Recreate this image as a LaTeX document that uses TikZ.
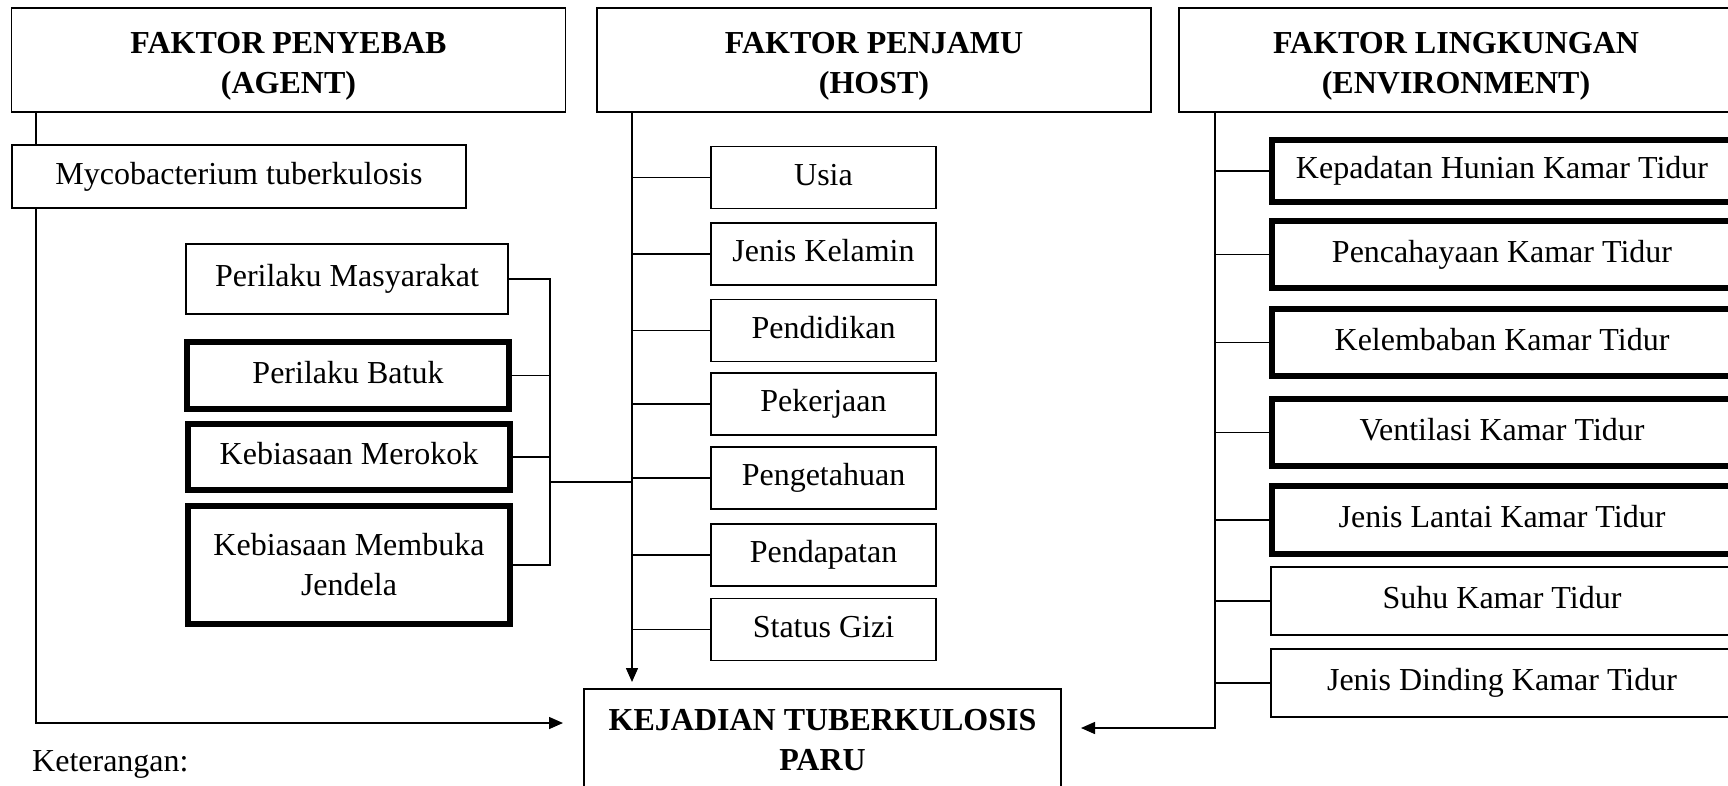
\documentclass[tikz,border=0pt]{standalone}
\usepackage{fontspec}
\setmainfont{Liberation Serif}
\usetikzlibrary{arrows.meta}
\newcommand\myfs{\fontsize{32}{40}\selectfont}
\newcommand\highr{\rule{0pt}{34pt}}
\begin{document}
\begin{tikzpicture}[x=1pt,y=-1pt,
  box/.style={draw, line width=1.5pt, inner sep=0pt, outer sep=0pt, font=\myfs, align=center},
  tbox/.style={box, line width=6.5pt},
  head/.style={box, font=\myfs\bfseries},
  st/.style={text height=22pt, text depth=7pt},
  ln/.style={line width=1.5pt},
  arr/.style={ln, -{Triangle[length=14pt,width=12pt]}}]
\useasboundingbox (0,0) rectangle (1728,785);
% headings
\node[head, minimum width=554, minimum height=104] (agent) at (288.5,60) {\highr FAKTOR PENYEBAB\\(AGENT)};
\node[head, minimum width=554, minimum height=104] (host) at (874,60) {\highr FAKTOR PENJAMU\\(HOST)};
\node[head, minimum width=554, minimum height=104] (env) at (1456,60) {\highr FAKTOR LINGKUNGAN\\(ENVIRONMENT)};
% agent
\node[box, st, minimum width=454, minimum height=63] (myco) at (239,176.5) {Mycobacterium tuberkulosis};
% behaviour boxes
\node[box, st, minimum width=322, minimum height=70] (pm) at (347,279) {Perilaku Masyarakat};
\node[tbox, st, minimum width=322, minimum height=67] (batuk) at (348,375.5) {Perilaku Batuk};
\node[tbox, st, minimum width=322, minimum height=66] (rokok) at (349,457) {Kebiasaan Merokok};
\node[tbox, minimum width=322, minimum height=118] (jendela) at (349,565) {Kebiasaan Membuka\\Jendela};
% host boxes
\node[box, st, minimum width=225, minimum height=62] (usia) at (823.5,177.5) {Usia};
\node[box, st, minimum width=225, minimum height=62] (jk) at (823.5,254) {Jenis Kelamin};
\node[box, st, minimum width=225, minimum height=62] (pend) at (823.5,330.5) {Pendidikan};
\node[box, st, minimum width=225, minimum height=62] (pek) at (823.5,404) {Pekerjaan};
\node[box, st, minimum width=225, minimum height=62] (peng) at (823.5,478) {Pengetahuan};
\node[box, st, minimum width=225, minimum height=62] (pdpt) at (823.5,555) {Pendapatan};
\node[box, st, minimum width=225, minimum height=62] (gizi) at (823.5,629.5) {Status Gizi};
% environment boxes
\node[tbox, st, minimum width=460, minimum height=62] (kep) at (1502,171) {Kepadatan Hunian Kamar Tidur};
\node[tbox, st, minimum width=460, minimum height=67] (cah) at (1502,254.5) {Pencahayaan Kamar Tidur};
\node[tbox, st, minimum width=460, minimum height=67] (lembab) at (1502,342.5) {Kelembaban Kamar Tidur};
\node[tbox, st, minimum width=460, minimum height=67] (vent) at (1502,432.5) {Ventilasi Kamar Tidur};
\node[tbox, st, minimum width=460, minimum height=68] (lantai) at (1502,520) {Jenis Lantai Kamar Tidur};
\node[box, st, minimum width=462, minimum height=68] (suhu) at (1502,601) {Suhu Kamar Tidur};
\node[box, st, minimum width=462, minimum height=68] (dinding) at (1502,683) {Jenis Dinding Kamar Tidur};
% outcome
\node[head, minimum width=477, minimum height=102] (kej) at (822.5,740) {KEJADIAN TUBERKULOSIS\\PARU};
\node[font=\myfs, st, inner sep=0pt, anchor=west] (ket) at (32,764) {Keterangan:};
% helper coordinates
\coordinate (ax) at (36,0);
\coordinate (hx) at (632,0);
\coordinate (ex) at (1215,0);
\coordinate (bx) at (550,0);
\coordinate (ay) at (0,723);
\coordinate (ey) at (0,728);
\coordinate (jy) at (0,482);
% agent line
\draw[ln] (agent.south -| ax) -- (myco.north -| ax);
\draw[arr, shorten >=21pt] (myco.south -| ax) |- (ay -| kej.west);
% host line
\draw[arr, shorten >=7pt] (host.south -| hx) -- (kej.north -| hx);
\foreach \n in {usia,jk,pend,pek,peng,pdpt,gizi}
  \draw[ln] (\n.west -| hx) -- (\n.west);
% behaviour bracket
\draw[ln] (pm.east) -| (bx |- jendela.east) -- (jendela.east);
\draw[ln] (batuk.east) -- (batuk.east -| bx);
\draw[ln] (rokok.east) -- (rokok.east -| bx);
\draw[ln] (jy -| bx) -- (jy -| hx);
% environment line
\draw[arr, shorten >=20pt] (env.south -| ex) |- (ey -| kej.east);
\foreach \n in {kep,cah,lembab,vent,lantai,suhu,dinding}
  \draw[ln] (\n.west -| ex) -- (\n.west);
\end{tikzpicture}
\end{document}
